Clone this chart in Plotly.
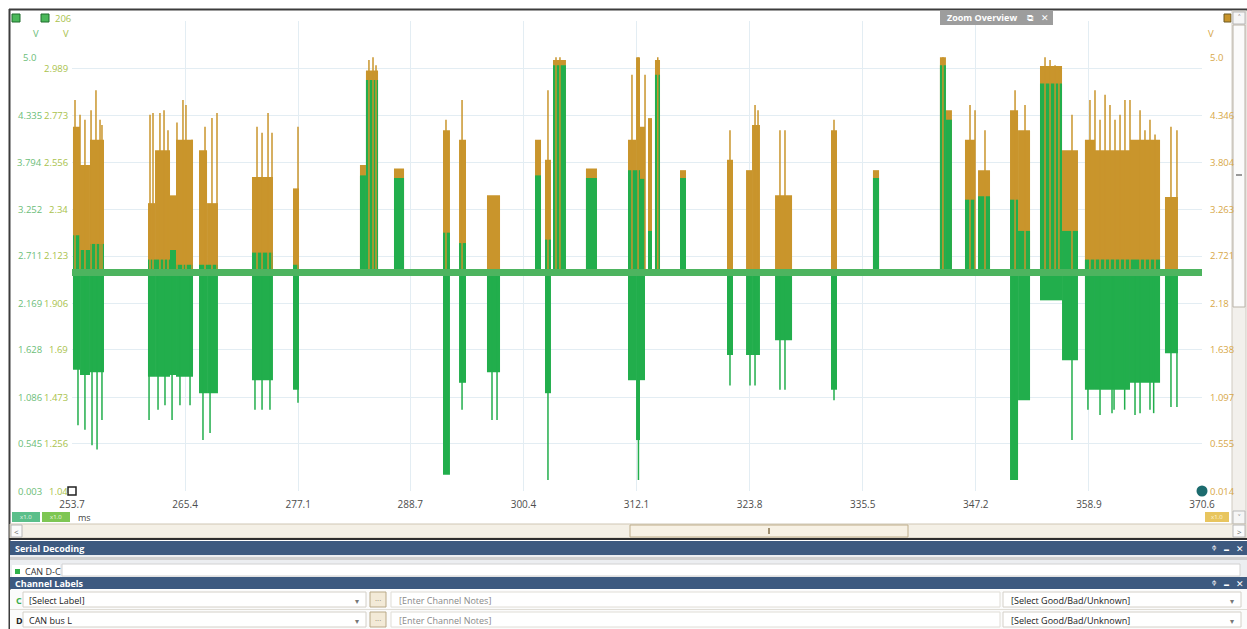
import plotly.graph_objects as go

W, H = 1247, 629

# ---------------- data ----------------
x_ticks = [253.7, 265.4, 277.1, 288.7, 300.4, 312.1, 323.8, 335.5, 347.2, 358.9, 370.6]
y_grid = [0.003, 0.545, 1.086, 1.628, 2.169, 2.711, 3.252, 3.794, 4.335, 4.877]
left_labels_d = ["0.003", "0.545", "1.086", "1.628", "2.169", "2.711", "3.252", "3.794", "4.335"]
left_labels_c = ["1.04", "1.256", "1.473", "1.69", "1.906", "2.123", "2.34", "2.556", "2.773", "2.989"]
right_labels = ["0.014", "0.555", "1.097", "1.638", "2.18", "2.721", "3.263", "3.804", "4.346"]

IDLE = 2.52  # recessive level (V)

# burst segments: start ms, end ms, channel C top (V), channel D top (V), channel D bottom (V)
seg_t0 = [253.80, 254.53, 255.56, 261.56, 262.29, 263.84, 264.46, 266.84, 267.67, 272.32,
          276.56, 283.49, 284.11, 287.01, 292.08, 293.74, 296.63, 301.60, 302.63, 303.46,
          306.87, 311.22, 312.05, 312.46, 313.29, 314.01, 316.60, 321.46, 323.43, 324.05,
          326.43, 332.22, 336.56, 343.49, 344.11, 346.08, 347.43, 350.74, 351.57, 353.84,
          356.12, 358.49, 359.53, 363.15, 366.77]
seg_t1 = [254.53, 255.56, 257.01, 262.29, 263.84, 264.46, 266.22, 267.67, 268.80, 274.49,
          277.18, 284.11, 285.36, 288.05, 292.80, 294.46, 297.98, 302.22, 303.25, 304.80,
          308.01, 312.05, 312.46, 312.98, 313.70, 314.53, 317.22, 322.08, 324.05, 324.87,
          328.19, 332.84, 337.19, 344.11, 344.73, 347.12, 348.67, 351.57, 352.81, 356.12,
          357.77, 359.53, 363.15, 366.26, 368.11]
c_top = [4.20, 3.76, 4.05, 3.32, 3.93, 3.41, 4.05, 3.93, 3.32, 3.62,
         3.49, 3.76, 4.85, 3.72, 4.16, 4.05, 3.41, 4.05, 3.82, 4.97,
         3.72, 4.05, 5.00, 4.20, 4.30, 4.97, 3.70, 3.82, 3.70, 4.22,
         3.41, 4.16, 3.70, 5.00, 4.39, 4.05, 3.70, 4.39, 4.16, 4.90,
         3.93, 4.05, 3.93, 4.05, 3.39]
d_top = [2.95, 2.78, 2.85, 2.67, 2.67, 2.78, 2.61, 2.61, 2.61, 2.75,
         2.61, 3.64, 4.74, 3.61, 2.98, 2.86, 2.52, 3.64, 2.90, 4.91,
         3.61, 3.70, 3.70, 3.60, 3.00, 4.80, 3.61, 2.52, 2.52, 2.52,
         2.52, 2.52, 3.61, 4.91, 4.28, 3.36, 3.40, 3.36, 3.00, 4.70,
         3.00, 2.67, 2.67, 2.67, 2.52]
d_bot = [1.40, 1.34, 1.37, 1.32, 1.32, 1.34, 1.32, 1.13, 1.13, 1.28,
         1.17, 2.52, 2.52, 2.52, 0.19, 1.25, 1.37, 2.52, 1.13, 2.52,
         2.52, 1.28, 0.59, 1.28, 2.52, 2.52, 2.52, 1.57, 1.57, 1.57,
         1.74, 1.17, 2.52, 2.52, 2.52, 2.52, 2.52, 0.13, 1.05, 2.20,
         1.51, 1.17, 1.17, 1.25, 1.59]

# channel C overshoot spikes (ms, V)
c_spike_t = [254.01, 254.53, 255.04, 255.67, 256.18, 256.60, 256.80, 261.77, 262.08, 262.80,
             263.22, 263.63, 264.56, 265.18, 265.49, 266.11, 267.46, 268.18, 268.70, 272.84,
             273.36, 273.98, 274.39, 277.08, 284.42, 284.84, 285.15, 292.39, 294.05, 302.94,
             303.77, 304.18, 311.63, 312.26, 312.98, 314.30, 321.77, 324.36, 324.67, 326.94,
             327.46, 332.53, 343.80, 346.60, 347.12, 348.15, 351.26, 352.29, 354.36, 354.88,
             355.40, 355.80, 357.15, 359.01, 359.53, 360.05, 360.57, 361.08, 361.60, 362.12,
             362.63, 363.15, 364.19, 364.70, 365.22, 365.74, 367.39, 368.01]
c_spike_v = [4.51, 4.34, 4.28, 4.39, 4.62, 4.28, 4.22, 4.34, 4.36, 4.36,
             4.39, 4.16, 4.25, 4.51, 4.45, 4.05, 4.20, 4.30, 4.36, 4.20,
             4.13, 4.36, 4.13, 4.20, 4.97, 5.00, 4.91, 4.28, 4.51, 4.62,
             5.00, 5.00, 4.80, 5.00, 4.80, 5.00, 4.16, 4.45, 4.39, 4.16,
             4.16, 4.28, 5.00, 4.45, 4.39, 4.16, 4.62, 4.45, 5.00, 4.97,
             4.91, 4.85, 4.34, 4.51, 4.62, 4.28, 4.57, 4.45, 4.28, 4.34,
             4.51, 4.51, 4.39, 4.16, 4.28, 4.11, 4.20, 4.16]

# channel D undershoot spikes (ms, V)
d_spike_t = [254.32, 255.04, 255.77, 256.29, 256.80, 261.67, 262.60, 263.32, 264.05, 264.87,
             265.91, 267.25, 267.98, 272.63, 273.36, 274.18, 277.08, 294.05, 297.15, 297.67,
             302.94, 312.30, 321.77, 323.84, 324.36, 326.94, 327.46, 332.53, 351.26, 357.15,
             358.80, 360.05, 361.29, 361.50, 362.60, 363.67, 364.19, 365.22, 365.60, 367.39,
             368.01]
d_spike_v = [0.76, 0.71, 0.53, 0.48, 0.82, 0.82, 0.94, 0.99, 0.82, 0.99,
             0.99, 0.59, 0.67, 0.94, 0.94, 0.94, 1.02, 0.94, 0.82, 0.82,
             0.13, 0.13, 1.22, 1.22, 1.22, 1.17, 1.17, 1.05, 0.13, 0.59,
             0.94, 0.88, 0.90, 0.94, 0.94, 0.88, 0.90, 0.94, 0.90, 0.97,
             0.97]

ORANGE = "#c9952c"
GREEN = "#22ae4c"
FONT = "Open Sans, Noto Sans, sans-serif"

# ---------------- helpers ----------------
def px(x):
    return x / W


def py(y):
    return 1 - y / H


shapes = []
annotations = []


def rect(x0, y0, x1, y1, fill, line=None, lw=1, layer="above"):
    shapes.append(dict(type="rect", xref="paper", yref="paper",
                       x0=px(x0), x1=px(x1), y0=py(y1), y1=py(y0),
                       fillcolor=fill, layer=layer,
                       line=dict(color=line or fill, width=lw if line else 0)))


def hline(x0, x1, y, color, lw=1):
    shapes.append(dict(type="line", xref="paper", yref="paper",
                       x0=px(x0), x1=px(x1), y0=py(y), y1=py(y),
                       line=dict(color=color, width=lw), layer="above"))


def vline(x, y0, y1, color, lw=1):
    shapes.append(dict(type="line", xref="paper", yref="paper",
                       x0=px(x), x1=px(x), y0=py(y0), y1=py(y1),
                       line=dict(color=color, width=lw), layer="above"))


def txt(x, y, s, size=10, color="#333", anchor="left", bold=False, yref="paper"):
    annotations.append(dict(x=px(x), y=(py(y) if yref == "paper" else y),
                            xref="paper", yref=yref, text=("<b>%s</b>" % s if bold else s),
                            showarrow=False, xanchor=anchor, yanchor="middle",
                            font=dict(size=size, color=color, family=FONT)))


# ---------------- traces ----------------
fig = go.Figure()

xc = [(a + b) / 2 for a, b in zip(seg_t0, seg_t1)]
wd = [b - a for a, b in zip(seg_t0, seg_t1)]

fig.add_trace(go.Bar(x=xc, width=wd, base=[IDLE] * len(xc),
                     y=[c - IDLE for c in c_top],
                     marker=dict(color=ORANGE, line=dict(width=0)), hoverinfo="skip"))

sx, sy = [], []
for t, v in zip(c_spike_t, c_spike_v):
    sx += [t, t, None]
    sy += [IDLE, v, None]
fig.add_trace(go.Scatter(x=sx, y=sy, mode="lines", line=dict(color=ORANGE, width=1.5),
                         hoverinfo="skip"))

fig.add_trace(go.Bar(x=xc, width=wd, base=[IDLE] * len(xc),
                     y=[d - IDLE for d in d_top],
                     marker=dict(color=GREEN, line=dict(width=0)), hoverinfo="skip"))
fig.add_trace(go.Bar(x=xc, width=wd, base=d_bot,
                     y=[IDLE - d for d in d_bot],
                     marker=dict(color=GREEN, line=dict(width=0)), hoverinfo="skip"))

gx, gy = [], []
for t, v in zip(d_spike_t, d_spike_v):
    gx += [t, t, None]
    gy += [IDLE, v, None]
fig.add_trace(go.Scatter(x=gx, y=gy, mode="lines", line=dict(color=GREEN, width=1.5),
                         hoverinfo="skip"))

# idle (recessive) trace
fig.add_trace(go.Scatter(x=[x_ticks[0], x_ticks[-1]], y=[IDLE, IDLE], mode="lines",
                         line=dict(color="#4db45f", width=7), hoverinfo="skip"))

# ruler markers
fig.add_trace(go.Scatter(x=[x_ticks[0]], y=[y_grid[0]], mode="markers", cliponaxis=False,
                         marker=dict(symbol="square", size=8, color="white",
                                     line=dict(color="#222", width=1.5)), hoverinfo="skip"))
fig.add_trace(go.Scatter(x=[x_ticks[-1]], y=[y_grid[0]], mode="markers", cliponaxis=False,
                         marker=dict(symbol="circle", size=11, color="#1c6b6e",
                                     line=dict(color="#1c6b6e", width=0)), hoverinfo="skip"))

# ---------------- axis labels ----------------
for v, s in zip(y_grid, left_labels_d):
    txt(44, v, s, 9.5, "#6bbd78", "right", yref="y")
txt(38, 5.0, "5.0", 9.5, "#6bbd78", "right", yref="y")
for v, s in zip(y_grid, left_labels_c):
    txt(70, v, s, 9.5, "#a9c24c", "right", yref="y")
for v, s in zip(y_grid, right_labels):
    txt(1208, v, s, 9.5, "#d7a747", "left", yref="y")
txt(1208, 5.0, "5.0", 9.5, "#d7a747", "left", yref="y")

txt(36, 33, "V", 9.5, "#6bbd78", "center")
txt(66, 33, "V", 9.5, "#a9c24c", "center")
txt(1211, 33, "V", 9.5, "#d7a747", "center")
txt(53, 19, "206", 9.5, "#a9c24c", "left")

# ---------------- UI chrome ----------------
# outer frame
hline(9, 1247, 9.5, "#3c3c3c", 2)
vline(9.5, 9, 629, "#3c3c3c", 2)
# channel buttons top-left
rect(12, 14, 20, 22, "#4bb85a", "#1f6d2c", 1)
rect(41, 14, 49, 22, "#4bb85a", "#1f6d2c", 1)
# top-right icon
rect(1224, 14, 1231, 22, "#c9952c", "#6d5a25", 1)
# zoom overview box
rect(940, 11, 1053, 25, "#9d9d9d")
txt(945, 18, "Zoom Overview", 9, "white", "left", bold=True)
txt(1030, 18, "⧉", 9, "white", "center")
txt(1045, 18, "✕", 9, "white", "center")

# right vertical scroll bar
rect(1232, 11, 1246, 524, "#f2f0ec", "#cfcac0", 1)
rect(1233, 12, 1245, 24, "#f6f6f6", "#b8b8b8", 1)
txt(1239, 18, "˄", 9, "#777", "center")
rect(1233, 25, 1245, 307, "#fbfbfb", "#b9b3a8", 1)
hline(1236, 1242, 175, "#999", 2)
rect(1233, 511, 1245, 524, "#f6f6f6", "#b8b8b8", 1)
txt(1239, 517, "˅", 9, "#777", "center")

# bottom-left channel tags
rect(12, 512, 40, 522, "#5bbf8a")
rect(42, 512, 70, 522, "#7ec653")
txt(26, 517, "x1.0", 6, "#e6f6ea", "center")
txt(56, 517, "x1.0", 6, "#eef8e6", "center")
txt(76, 517, "ms", 9, "#444", "left")
# bottom-right tag
rect(1205, 512, 1229, 522, "#e8c55e")
txt(1217, 517, "x1.0", 6, "#fff5d8", "center")

# horizontal scroll bar
rect(10, 524, 1246, 538, "#f4f0e6", "#cfc6b4", 1)
rect(11, 525, 22, 537, "#fbfbfb", "#b8b8b8", 1)
txt(16.5, 531, "<", 8, "#666", "center")
rect(630, 525, 908, 537, "#f7f1e4", "#bfae8c", 1)
vline(769, 528, 534, "#a09070", 2)
rect(1233, 525, 1245, 537, "#fbfbfb", "#b8b8b8", 1)
txt(1239, 531, ">", 8, "#666", "center")
hline(9, 1247, 539, "#2e2e2e", 2)

# serial decoding panel
rect(10, 541, 1247, 555, "#3d5a80")
txt(13, 548, "Serial Decoding", 9, "white", "left", bold=True)
txt(1214, 548, "ᵠ", 9, "white", "center")
txt(1226, 549, "▬", 5, "white", "center")
txt(1240, 548, "✕", 9, "white", "center")
rect(10, 555, 1247, 577, "#eceef1")
rect(10, 557, 1247, 560, "#cfcfcf")
rect(62, 564, 1240, 576, "#ffffff", "#d2d2d2", 1)
rect(12, 565, 60, 577, "#ffffff")
rect(15, 569, 20, 574, "#2fb24a")
txt(23, 571, "CAN D-C", 9, "#333", "left")

# channel labels panel
rect(10, 577, 1247, 589, "#3d5a80")
txt(13, 583, "Channel Labels", 9, "white", "left", bold=True)
txt(1214, 583, "ᵠ", 9, "white", "center")
txt(1226, 584, "▬", 5, "white", "center")
txt(1240, 583, "✕", 9, "white", "center")

for (ytop, ch, chcol, label, labcol) in [(590, "C", "#3cae4c", "[Select Label]", "#222"),
                                          (610, "D", "#222", "CAN bus L", "#222")]:
    rect(10, ytop, 1247, ytop + 19, "#fbfbfb")
    hline(10, 1247, ytop + 19.5, "#e0ddd6", 1)
    txt(14, ytop + 10, ch, 9, chcol, "left", bold=True)
    rect(23, ytop + 2, 366, ytop + 17, "#ffffff", "#d4d0c8", 1)
    txt(27, ytop + 10, label, 9, labcol, "left")
    txt(357, ytop + 10, "▾", 8, "#777", "center")
    rect(370, ytop + 2, 386, ytop + 17, "#f3ead7", "#b9a987", 1)
    txt(378, ytop + 9, "···", 8, "#8a7a5a", "center")
    rect(391, ytop + 2, 1000, ytop + 17, "#ffffff", "#e0ddd6", 1)
    txt(397, ytop + 10, "[Enter Channel Notes]", 9, "#8a8a8a", "left")
    rect(1003, ytop + 2, 1241, ytop + 17, "#ffffff", "#d4d0c8", 1)
    txt(1009, ytop + 10, "[Select Good/Bad/Unknown]", 9, "#222", "left")
    txt(1232, ytop + 10, "▾", 8, "#777", "center")

# ---------------- layout ----------------
fig.update_layout(
    width=W, height=H,
    margin=dict(l=0, r=0, t=0, b=0, pad=0, autoexpand=False),
    paper_bgcolor="white", plot_bgcolor="white",
    showlegend=False, barmode="overlay",
    xaxis=dict(domain=[px(72), px(1202)], range=[x_ticks[0], x_ticks[-1]],
               tickvals=x_ticks, ticktext=[str(v) for v in x_ticks], automargin=False,
               showgrid=True, gridcolor="#e3edf3", gridwidth=1, zeroline=False,
               showline=False, ticks="", ticklen=0, ticklabelstandoff=6,
               tickfont=dict(size=10, color="#4d4d4d", family=FONT)),
    yaxis=dict(domain=[py(491), py(21)], range=[y_grid[0], 5.419], automargin=False,
               tickvals=y_grid, showticklabels=False,
               showgrid=True, gridcolor="#e3edf3", gridwidth=1, zeroline=False,
               showline=False, ticks=""),
    shapes=shapes, annotations=annotations,
)

fig.write_html("out.html")
